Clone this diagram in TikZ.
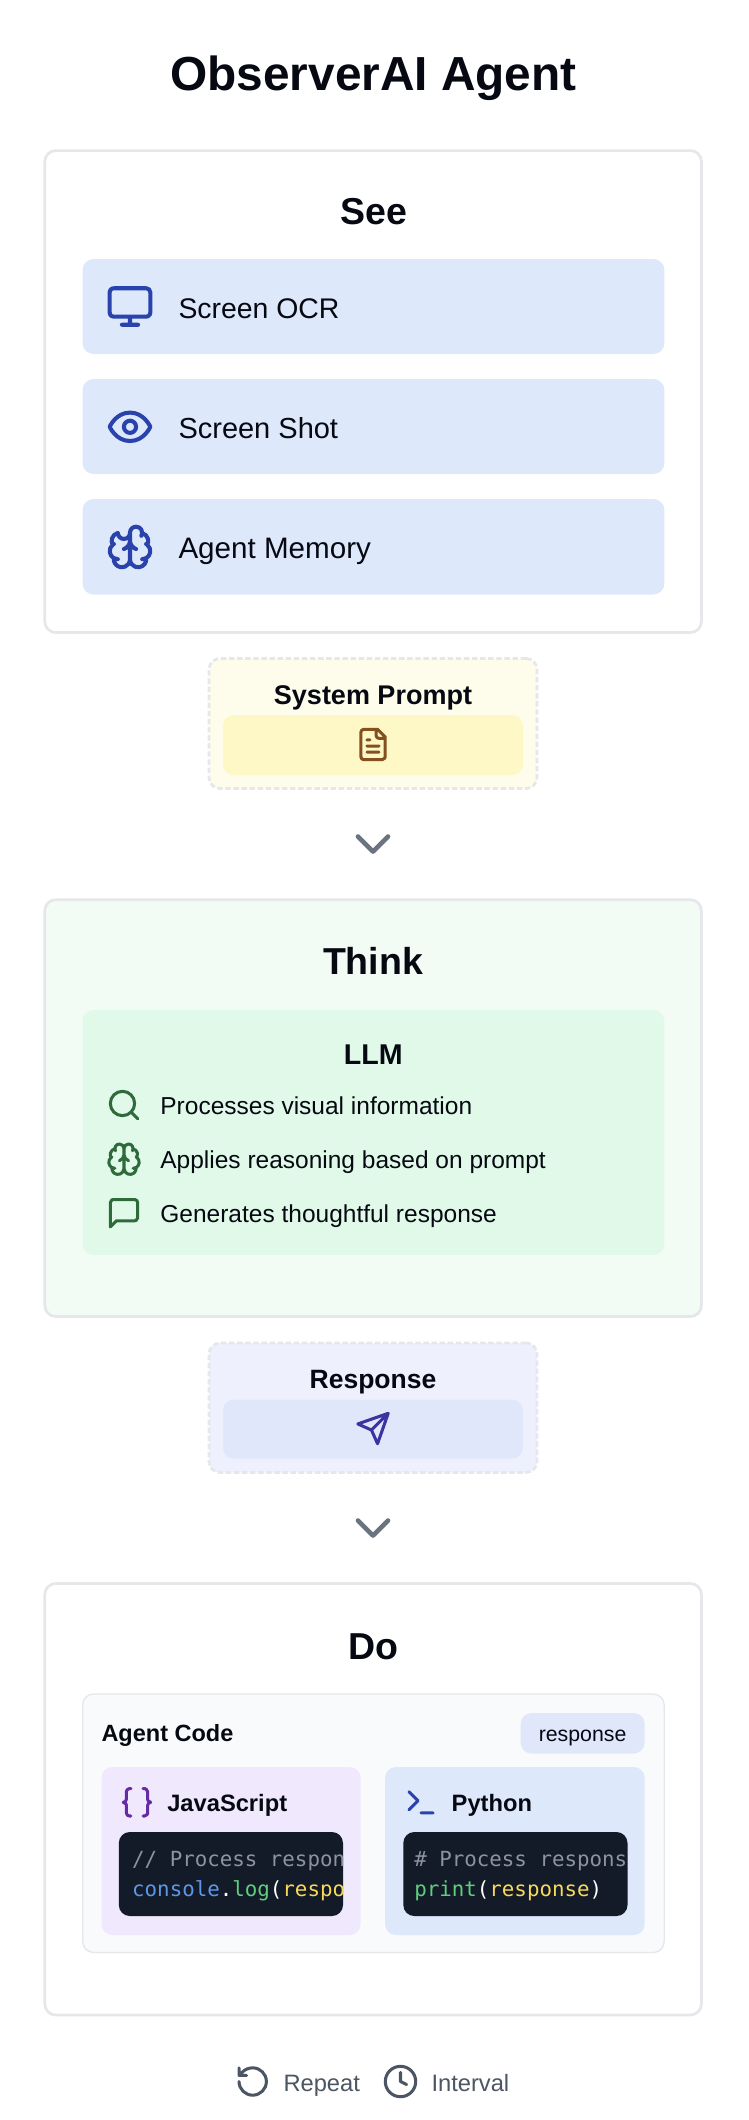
\documentclass[tikz,border=0pt]{standalone}
\usepackage{fontspec}
\setmainfont{Liberation Sans}
\setmonofont{DejaVu Sans Mono}
\usetikzlibrary{svg.path}
\definecolor{ink}{HTML}{060912}
\definecolor{cardline}{HTML}{E5E7EB}
\definecolor{bluebar}{HTML}{DDE8FB}
\definecolor{blueicon}{HTML}{2A43AC}
\definecolor{greenbg}{HTML}{F3FCF4}
\definecolor{greenbar}{HTML}{E1F9E9}
\definecolor{greenicon}{HTML}{2F6A3C}
\definecolor{yellowbg}{HTML}{FEFCEA}
\definecolor{yellowbar}{HTML}{FDF8C6}
\definecolor{yellowicon}{HTML}{845020}
\definecolor{indigobg}{HTML}{EEF1FD}
\definecolor{indigobar}{HTML}{E1E7FB}
\definecolor{indigoicon}{HTML}{3A33A0}
\definecolor{chev}{HTML}{6B7280}
\definecolor{codepanel}{HTML}{F9FAFC}
\definecolor{purplebar}{HTML}{F0E8FC}
\definecolor{purpleicon}{HTML}{652BA5}
\definecolor{codebg}{HTML}{131A28}
\definecolor{ccomment}{HTML}{8D93A0}
\definecolor{cblue}{HTML}{5E97E8}
\definecolor{cgreen}{HTML}{5FCE7D}
\definecolor{cyellow}{HTML}{F8D95A}
\definecolor{footgray}{HTML}{4B5563}
\newcommand\rbox[6]{%
  \pgfmathsetmacro\rbw{#4-#2}\pgfmathsetmacro\rbh{#5-#3}%
  \pgfmathsetmacro\rbx{(#4+#2)/2}\pgfmathsetmacro\rby{(#5+#3)/2}%
  \node[panel,#6,minimum width=\rbw pt,minimum height=\rbh pt] (#1) at (\rbx,\rby) {};}
\newcommand\lucide[5]{%
  \begin{scope}[shift={(#1,#2)},xscale=#3,yscale=-#3,shift={(-12pt,-12pt)}]
  \draw[color=#4,line width=2*#3 pt,line cap=round,line join=round] svg {#5};
  \end{scope}}
\newcommand\brainicon[4]{\lucide{#1}{#2}{#3}{#4}{M 12 5 a 3 3 0 1 0 -5.997 0.125 a 4 4 0 0 0 -2.526 5.77 a 4 4 0 0 0 0.556 6.588 A 4 4 0 1 0 12 18 Z
 M 12 5 a 3 3 0 1 1 5.997 0.125 a 4 4 0 0 1 2.526 5.77 a 4 4 0 0 1 -0.556 6.588 A 4 4 0 1 1 12 18 Z
 M 15 13 a 4.5 4.5 0 0 1 -3 -4 a 4.5 4.5 0 0 1 -3 4
 M 17.599 6.5 a 3 3 0 0 0 0.399 -1.375
 M 6.003 5.125 A 3 3 0 0 0 6.401 6.5
 M 3.477 10.896 a 4 4 0 0 1 0.585 -0.396
 M 19.938 10.5 a 4 4 0 0 1 0.585 0.396
 M 6 18 a 4 4 0 0 1 -1.967 -0.516
 M 19.967 17.484 A 4 4 0 0 1 18 18}}
\tikzset{
  panel/.style={rectangle,rounded corners=11pt,inner sep=0pt,outer sep=0pt},
  card/.style={draw=cardline,line width=2.7pt},
  dashcard/.style={draw=cardline,line width=2.7pt,dash pattern=on 5.4pt off 2.7pt},
  txt/.style={inner sep=0pt,outer sep=0pt,text=ink},
  mid/.style={txt,anchor=base},
  left/.style={txt,anchor=base west},
  titlefont/.style={font=\fontsize{47.8}{58}\selectfont\bfseries},
  headfont/.style={font=\fontsize{37.5}{45}\selectfont\bfseries},
  subfont/.style={font=\fontsize{27}{32}\selectfont\bfseries},
  rowfont/.style={font=\fontsize{24.5}{29}\selectfont},
  langfont/.style={font=\fontsize{23.7}{28}\selectfont\bfseries},
  codefont/.style={font=\fontsize{20.8}{25}\selectfont\ttfamily},
  footfont/.style={txt,anchor=base west,text=footgray,font=\fontsize{23.7}{28}\selectfont},
}
\begin{document}
\begin{tikzpicture}[x=1pt,y=-1pt]
\useasboundingbox (0,0) rectangle (748,2120);
\fill[white] (0,0) rectangle (748,2120);
\node[mid,titlefont] (title) at (373.5,90) {ObserverAI Agent};
% See
\rbox{seecard}{44.8}{150.6}{701.4}{632.5}{card,fill=white}
\node[mid,headfont] (seehead) at (373.5,224.4) {See};
\rbox{barocr}{82.5}{259}{664.4}{354}{fill=bluebar}
\rbox{barshot}{82.5}{379}{664.4}{474}{fill=bluebar}
\rbox{barmem}{82.5}{499}{664.4}{594.5}{fill=bluebar}
\lucide{130}{306.5}{2.03}{blueicon}{M 4 3 H 20 A 2 2 0 0 1 22 5 V 15 A 2 2 0 0 1 20 17 H 4 A 2 2 0 0 1 2 15 V 5 A 2 2 0 0 1 4 3 Z M 8 21 H 16 M 12 17 V 21}
\lucide{130}{426.8}{2.03}{blueicon}{M 2 12 C 2 12 5 5 12 5 C 19 5 22 12 22 12 C 22 12 19 19 12 19 C 5 19 2 12 2 12 Z M 15 12 A 3 3 0 1 1 9 12 A 3 3 0 1 1 15 12 Z}
\brainicon{130}{547}{2.03}{blueicon}
\node[left,font=\fontsize{28.4}{34}\selectfont] (ocr) at (178.5,318) {Screen OCR};
\node[left,font=\fontsize{29}{34}\selectfont] (shot) at (178.5,438.4) {Screen Shot};
\node[left,font=\fontsize{29.6}{34}\selectfont] (mem) at (178.5,558.5) {Agent Memory};
% System prompt
\rbox{promptcard}{209}{658.5}{537}{788.5}{dashcard,fill=yellowbg}
\node[mid,subfont] (prompthead) at (373,704) {System Prompt};
\rbox{promptbar}{223}{715}{523}{775}{fill=yellowbar}
\lucide{373}{744.5}{1.52}{yellowicon}{M 15 2 H 6 a 2 2 0 0 0 -2 2 v 16 a 2 2 0 0 0 2 2 h 12 a 2 2 0 0 0 2 -2 V 7 Z M 14 2 v 4 a 2 2 0 0 0 2 2 h 4 M 10 9 H 8 M 16 13 H 8 M 16 17 H 8}
\coordinate (chevA) at (373,844);
\draw[chev,line width=4.6pt,line cap=round,line join=round] ([shift={(-15pt,7.5pt)}]chevA) -- ([shift={(0pt,-7.5pt)}]chevA) -- ([shift={(15pt,7.5pt)}]chevA);
% Think
\rbox{thinkcard}{44.8}{899.7}{701.4}{1316.5}{card,fill=greenbg}
\node[mid,headfont] (thinkhead) at (373,974.8) {Think};
\rbox{llmbar}{82.5}{1010}{664.4}{1255}{fill=greenbar}
\node[mid,font=\fontsize{28.6}{34}\selectfont\bfseries] (llm) at (373.3,1064) {LLM};
\lucide{124}{1105}{1.52}{greenicon}{M 19 11 A 8 8 0 1 1 3 11 A 8 8 0 1 1 19 11 Z M 21 21 L 16.7 16.7}
\brainicon{124}{1159.2}{1.52}{greenicon}
\lucide{124}{1213.2}{1.52}{greenicon}{M 21 15 a 2 2 0 0 1 -2 2 H 7 l -4 4 V 5 a 2 2 0 0 1 2 -2 h 14 a 2 2 0 0 1 2 2 z}
\node[left,rowfont] (r1) at (160.4,1114.7) {Processes visual information};
\node[left,rowfont] (r2) at (160.4,1168.5) {Applies reasoning based on prompt};
\node[left,rowfont] (r3) at (160.4,1222.3) {Generates thoughtful response};
% Response
\rbox{respcard}{209}{1343}{537}{1472.5}{dashcard,fill=indigobg}
\node[mid,font=\fontsize{26.5}{32}\selectfont\bfseries] (resphead) at (373,1388.4) {Response};
\rbox{respbar}{223}{1399.5}{523}{1458.7}{fill=indigobar}
\lucide{373}{1428.5}{1.52}{indigoicon}{M 22 2 L 15 22 L 11 13 L 2 9 Z M 22 2 L 11 13}
\coordinate (chevB) at (373,1528);
\draw[chev,line width=4.6pt,line cap=round,line join=round] ([shift={(-15pt,7.5pt)}]chevB) -- ([shift={(0pt,-7.5pt)}]chevB) -- ([shift={(15pt,7.5pt)}]chevB);
% Do
\rbox{docard}{44.8}{1583.5}{701.4}{2015}{card,fill=white}
\node[mid,headfont] (dohead) at (373.5,1659) {Do};
\rbox{codepanelbox}{82.7}{1694}{664.2}{1952.5}{draw=cardline,line width=1.35pt,fill=codepanel}
\node[left,font=\fontsize{23.5}{28}\selectfont\bfseries] (agentcode) at (101.5,1741.5) {Agent Code};
\rbox{pill}{520.5}{1713}{644.7}{1753.5}{fill=indigobar}
\node[mid,font=\fontsize{21.3}{26}\selectfont] (pilltext) at (582.6,1741.5) {response};
\rbox{jscard}{101.5}{1767}{360.7}{1935}{fill=purplebar}
\rbox{pycard}{385}{1767}{644.7}{1935}{fill=bluebar}
\lucide{137}{1802.3}{1.52}{purpleicon}{M 8 3 H 7 a 2 2 0 0 0 -2 2 v 5 a 2 2 0 0 1 -2 2 a 2 2 0 0 1 2 2 v 5 c 0 1.1 0.9 2 2 2 h 1 M 16 21 h 1 a 2 2 0 0 0 2 -2 v -5 c 0 -1.1 0.9 -2 2 -2 a 2 2 0 0 1 -2 -2 V 5 a 2 2 0 0 0 -2 -2 h -1}
\lucide{421}{1802.3}{1.52}{blueicon}{M 4 17 L 10 11 L 4 5 M 12 19 L 20 19}
\node[left,langfont] (jslabel) at (167.3,1811.3) {JavaScript};
\node[left,langfont] (pylabel) at (451.7,1811.3) {Python};
\rbox{jscode}{118.8}{1832}{343}{1916}{fill=codebg}
\rbox{pycode}{403.3}{1832}{627.5}{1916}{fill=codebg}
\begin{scope}
  \clip[rounded corners=11pt] (118.8,1832) rectangle (343,1916);
  \node[left,codefont,text=ccomment] (jsl1) at (132.2,1866.5) {// Process response};
  \node[left,codefont,text=white] (jsl2) at (132.2,1896.5) {\textcolor{cblue}{console}.\textcolor{cgreen}{log}(\textcolor{cyellow}{response})};
\end{scope}
\begin{scope}
  \clip[rounded corners=11pt] (403.3,1832) rectangle (627.5,1916);
  \node[left,codefont,text=ccomment] (pyl1) at (414.3,1866.5) {\# Process response};
  \node[left,codefont,text=white] (pyl2) at (414.3,1896.5) {\textcolor{cgreen}{print}(\textcolor{cyellow}{response})};
\end{scope}
% Footer
\lucide{252.7}{2081.5}{1.52}{footgray}{M 3 12 a 9 9 0 1 0 9 -9 a 9.75 9.75 0 0 0 -6.74 2.74 L 3 8 M 3 3 v 5 h 5}
\node[footfont] (repeat) at (283.5,2091.5) {Repeat};
\lucide{400.5}{2081.5}{1.52}{footgray}{M 22 12 A 10 10 0 1 1 2 12 A 10 10 0 1 1 22 12 Z M 12 6 L 12 12 L 16 14}
\node[footfont] (interval) at (431.5,2091.5) {Interval};
\end{tikzpicture}
\end{document}
